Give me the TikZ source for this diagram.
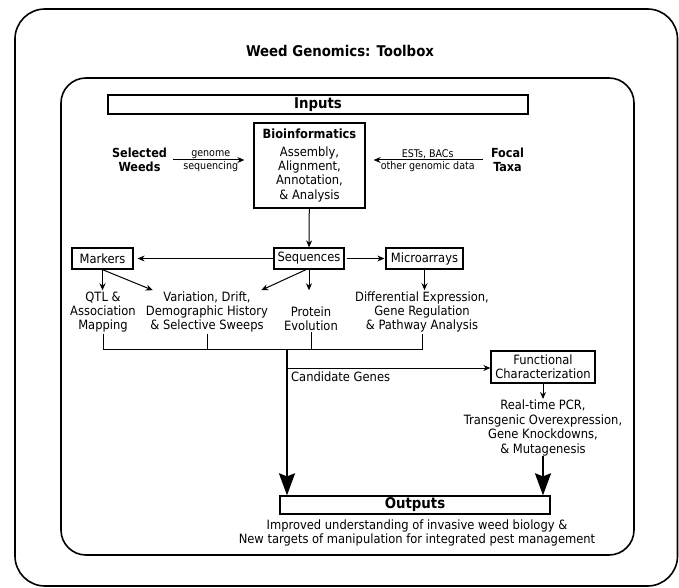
\documentclass[tikz,border=0pt]{standalone}
\usepackage{fontspec}
\setmainfont{DejaVu Sans Condensed}
\usetikzlibrary{arrows.meta, positioning}

\begin{document}
\begin{tikzpicture}[
    x=1pt, y=-1pt,
    box/.style={rectangle, draw, line width=1.3pt, inner sep=1pt, align=center, font=\fontsize{12.8}{14.4}\selectfont},
    txt/.style={align=center, inner sep=1pt, font=\fontsize{12.8}{14.4}\selectfont},
    head/.style={align=center, inner sep=1pt, font=\fontsize{12.5}{14.4}\selectfont\bfseries},
    big/.style={font=\fontsize{14.8}{16}\selectfont\bfseries},
    lbl/.style={inner sep=1pt, font=\fontsize{10.6}{11}\selectfont},
    arrow/.style={-{Stealth[length=7pt, width=6pt]}, line width=1pt},
    bigarrow/.style={-{Stealth[length=22pt, width=16pt, inset=3pt]}, line width=2pt},
    frame/.style={draw, line width=1.6pt}
]
\useasboundingbox (0,0) rectangle (679,588);

% Frames
\draw[frame, rounded corners=30pt] (15,9) rectangle (677.5,586);
\draw[frame, rounded corners=25pt] (61,78) rectangle (634,555);
\node[head, big] (title) at (340,51) {Weed Genomics: Toolbox};

% Inputs
\node[box, big, minimum width=420pt, minimum height=19pt] (inputs) at (318,104.5) {Inputs};
\node[box, minimum width=111pt, minimum height=85pt] (bioinf) at (309.5,165.5)
    {{\fontsize{12.7}{14}\selectfont\bfseries Bioinformatics}\\[3pt] Assembly,\\ Alignment,\\ Annotation,\\ \& Analysis};
\node[head] (weeds) at (139.5,160) {Selected\\Weeds};
\node[head] (focal) at (507.5,160) {Focal\\Taxa};

% Middle row
\node[box, minimum width=70pt, minimum height=21pt] (seq) at (309,258.5) {Sequences};
\node[box, minimum width=61pt, minimum height=21pt] (markers) at (102.5,258.5) {Markers};
\node[box, minimum width=77pt, minimum height=21pt] (micro) at (424.5,258.5) {Microarrays};

\node[txt] (qtl) at (103,312) {QTL \&\\ Association\\ Mapping};
\node[txt] (var) at (207,312) {Variation, Drift,\\ Demographic History\\ \& Selective Sweeps};
\node[txt] (prot) at (311,319) {Protein\\ Evolution};
\node[txt] (diff) at (422,312) {Differential Expression,\\ Gene Regulation\\ \& Pathway Analysis};

% Candidate genes branch
\coordinate (bus) at (287,349);
\coordinate (cand) at (287,368);
\node[box, minimum width=104pt, minimum height=32pt] (func) at (543,367) {Functional\\ Characterization};
\node[txt] (methods) at (543,428) {Real-time PCR,\\ Transgenic Overexpression,\\ Gene Knockdowns,\\ \& Mutagenesis};
\node[txt, anchor=north west] (candlbl) at (290,371) {Candidate Genes};

% Outputs
\node[box, big, minimum width=270pt, minimum height=18pt] (outputs) at (415,505) {Outputs};
\node[txt] (result) at (417,533) {Improved understanding of invasive weed biology \&\\ New targets of manipulation for integrated pest management};

% Arrows
\draw[arrow, shorten <=5pt, shorten >=9pt] (weeds.east) -- (weeds.east -| bioinf.west)
    node[lbl, midway, above] {genome} node[lbl, midway, below] {sequencing};
\draw[arrow, shorten <=7pt, shorten >=8pt] (focal.west) -- (focal.west -| bioinf.east)
    node[lbl, midway, above] {ESTs, BACs} node[lbl, midway, below] {other genomic data};
\draw[arrow] (bioinf) -- (seq);
\draw[arrow, shorten >=4pt] (seq) -- (markers);
\draw[arrow, shorten <=2pt, shorten >=1pt] (seq) -- (micro);
\draw[arrow] (markers.south) -- (markers.south |- qtl.north);
\draw[arrow] (markers.south) -- ([xshift=8pt]var.north west);
\draw[arrow] ([xshift=-3pt]seq.south) -- ([xshift=-8pt]var.north east);
\draw[arrow] (seq.south) -- (seq.south |- qtl.north);
\draw[arrow] (micro.south) -- (micro.south |- diff.north);

% Collecting bus
\draw[line width=1pt] (qtl.south) -- (qtl.south |- bus) -- (diff.south |- bus) -- (diff.south);
\draw[line width=1pt] (var.south) -- (var.south |- bus);
\draw[line width=1pt] (prot.south) -- (prot.south |- bus);
\draw[bigarrow] (bus) -- (bus |- outputs.north);
\draw[arrow] (cand) -- (func.west |- cand);
\draw[arrow] (func) -- (methods);
\draw[bigarrow] ([yshift=1pt]methods.south) -- (methods.south |- outputs.north);

\end{tikzpicture}
\end{document}
